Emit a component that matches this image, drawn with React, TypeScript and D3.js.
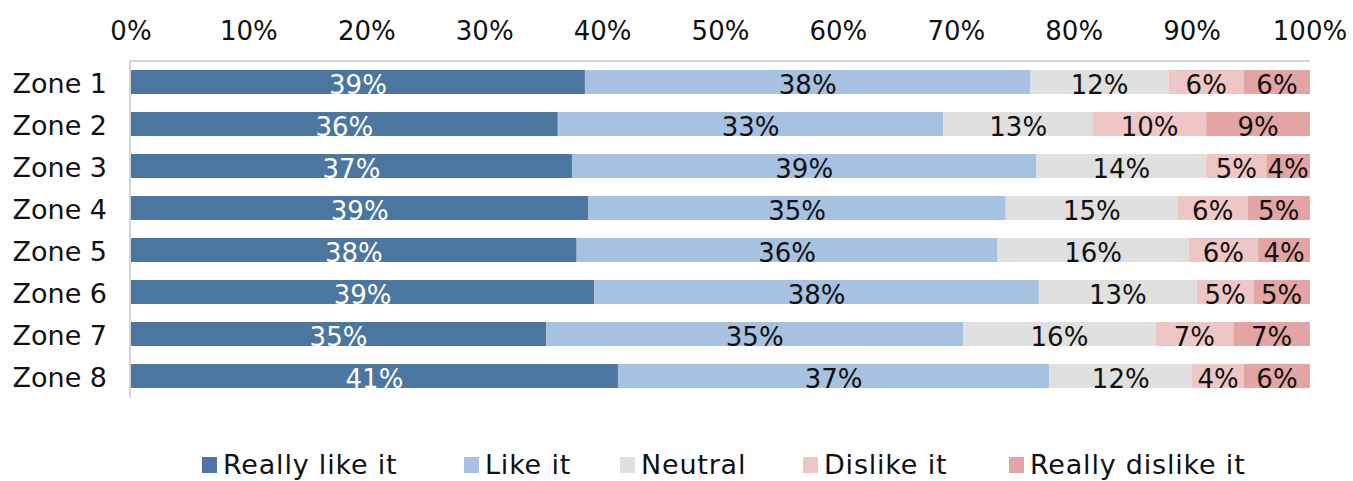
import React from "react";
import * as d3 from "d3";

const zones = ["Zone 1", "Zone 2", "Zone 3", "Zone 4", "Zone 5", "Zone 6", "Zone 7", "Zone 8"];
const series = ["Really like it", "Like it", "Neutral", "Dislike it", "Really dislike it"];
const reallyLike = [38.5, 36.2, 37.4, 38.8, 37.8, 39.3, 35.2, 41.3];
const like = [37.8, 32.7, 39.4, 35.4, 35.7, 37.7, 35.4, 36.6];
const neutral = [11.7, 12.7, 14.4, 14.6, 16.2, 13.4, 16.3, 12.1];
const dislike = [6.4, 9.6, 5.1, 5.9, 5.9, 4.8, 6.6, 4.4];
const reallyDislike = [5.6, 8.8, 3.7, 5.3, 4.4, 4.8, 6.5, 5.6];
const ticks = [0, 10, 20, 30, 40, 50, 60, 70, 80, 90, 100];

const colors = ["#4a76a0", "#a7c1e0", "#e0e0e0", "#efc6c6", "#e3a5a3"];
const labelColors = ["#ffffff", "#111111", "#111111", "#111111", "#111111"];
const legendX = [202, 464, 620, 803, 1009];
const FONT = "'DejaVu Sans', sans-serif";

export default function App() {
  const width = 1353;
  const height = 481;
  const x = d3.scaleLinear().domain([0, 100]).range([131, 1310]);
  const y = d3.scaleBand<string>().domain(zones).range([61, 397]).paddingInner(0.43).paddingOuter(0.215);

  const rows = zones.map((z, i) => {
    const o: any = { zone: z };
    const vals = [reallyLike[i], like[i], neutral[i], dislike[i], reallyDislike[i]];
    series.forEach((s, j) => (o[s] = vals[j]));
    return o;
  });
  const stacked = d3.stack<any>().keys(series)(rows);

  return (
    <svg width={width} height={height} style={{ position: "absolute", left: 0, top: 0, background: "#fff" }}>
      {ticks.map((t) => (
        <text key={t} x={x(t)} y={40} textAnchor="middle" fontFamily={FONT} fontSize={26} fill="#111">
          {t}%
        </text>
      ))}
      {stacked.map((layer, si) => (
        <g key={layer.key}>
          {layer.map((d, zi) => {
            const x0 = x(d[0]);
            const x1 = x(d[1]);
            const yy = y(zones[zi])!;
            const v = d[1] - d[0];
            return (
              <g key={zi}>
                <rect x={x0} y={yy} width={x1 - x0} height={y.bandwidth()} fill={colors[si]} />
                <text
                  x={(x0 + x1) / 2}
                  y={yy + y.bandwidth() / 2 + 12}
                  textAnchor="middle"
                  fontFamily={FONT}
                  fontSize={26}
                  fill={labelColors[si]}
                >
                  {Math.round(v)}%
                </text>
              </g>
            );
          })}
        </g>
      ))}
      <line x1={130} x2={1310} y1={61} y2={61} stroke="#c6c6c6" strokeWidth={1.5} />
      <line x1={130} x2={130} y1={61} y2={398} stroke="#c6c6c6" strokeWidth={1.5} />
      {zones.map((z) => (
        <text key={z} x={107} y={y(z)! + y.bandwidth() / 2 + 11} textAnchor="end" fontFamily={FONT} fontSize={27} fill="#111">
          {z}
        </text>
      ))}
      {series.map((s, i) => (
        <g key={s}>
          <rect x={legendX[i]} y={457} width={15} height={16} fill={colors[i]} />
          <text x={legendX[i] + 21} y={474} fontFamily={FONT} fontSize={27} letterSpacing={0.8} fill="#111">
            {s}
          </text>
        </g>
      ))}
    </svg>
  );
}
